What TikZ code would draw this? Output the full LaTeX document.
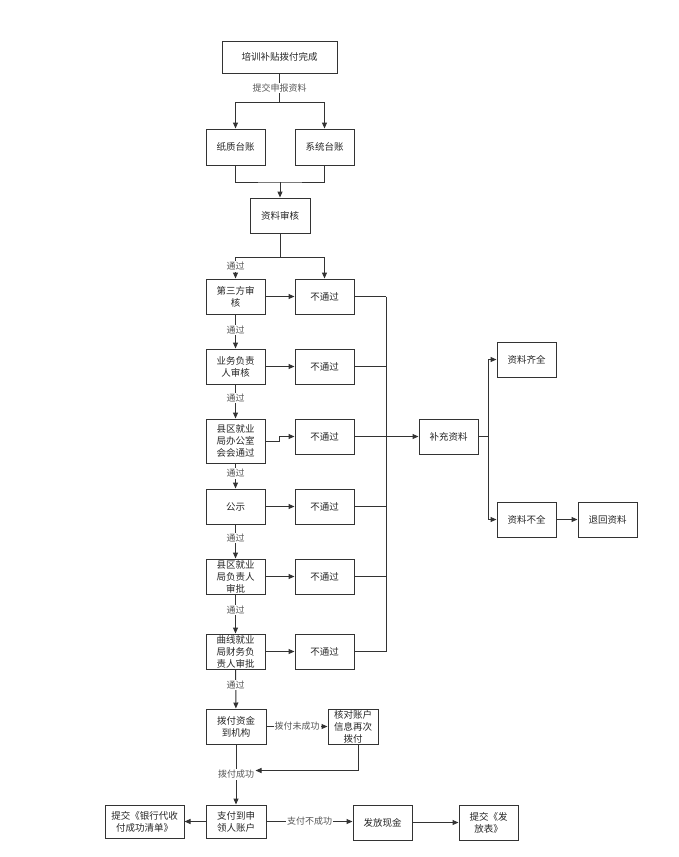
\documentclass[tikz,border=0pt]{standalone}
\usepackage{fontspec}
\newfontfamily\cjk{Noto Sans CJK SC}
\usetikzlibrary{arrows.meta}
\definecolor{ln}{HTML}{333333}
\definecolor{lt}{HTML}{555555}
\tikzset{
  bx/.style={draw=ln, line width=1pt, align=center, inner sep=1pt,
    minimum width=59pt, minimum height=35pt, font=\cjk\fontsize{9.5}{12}\selectfont, text=black!85},
  arr/.style={draw=ln, line width=1pt, -{Triangle[length=6pt,width=5pt]}},
  pl/.style={draw=ln, line width=1pt},
  lbl/.style={fill=white, inner sep=1pt, text=lt, font=\cjk\fontsize{9}{11}\selectfont}
}
\begin{document}
\begin{tikzpicture}[x=1pt,y=-1pt]
\useasboundingbox (0,0) rectangle (678,857);
% nodes
\node[bx, minimum width=115pt, minimum height=32pt] (top) at (279.5,57) {培训补贴拨付完成};
\node[bx, minimum height=36pt] (zhi) at (235.5,147) {纸质台账};
\node[bx, minimum height=36pt] (xi) at (324.5,147) {系统台账};
\node[bx, minimum width=60pt] (zl) at (280,215.5) {资料审核};
\node[bx] (A1) at (235.5,296.5) {第三方审\\核};
\node[bx] (A2) at (235.5,366.5) {业务负责\\人审核};
\node[bx, minimum height=44pt] (A3) at (235.5,441) {县区就业\\局办公室\\会会通过};
\node[bx] (A4) at (235.5,506.5) {公示};
\node[bx] (A5) at (235.5,576.5) {县区就业\\局负责人\\审批};
\node[bx] (A6) at (235.5,651.5) {曲线就业\\局财务负\\责人审批};
\node[bx] (B1) at (324.5,296.5) {不通过};
\node[bx] (B2) at (324.5,366.5) {不通过};
\node[bx] (B3) at (324.5,436.5) {不通过};
\node[bx] (B4) at (324.5,506.5) {不通过};
\node[bx] (B5) at (324.5,576.5) {不通过};
\node[bx] (B6) at (324.5,651.5) {不通过};
\node[bx, minimum width=60pt] (A7) at (236,726.5) {拨付资金\\到机构};
\node[bx, minimum width=50pt] (hd) at (353,726.5) {核对账户\\信息再次\\拨付};
\node[bx, minimum width=60pt, minimum height=33pt] (zf) at (236,821.5) {支付到申\\领人账户};
\node[bx, minimum width=79pt, minimum height=33pt] (tj1) at (144.5,821.5) {提交《银行代收\\付成功清单》};
\node[bx] (ff) at (382.5,822.5) {发放现金};
\node[bx] (tj2) at (488.5,822.5) {提交《发\\放表》};
\node[bx] (bc) at (448.5,436.5) {补充资料};
\node[bx] (qq) at (526.5,359.5) {资料齐全};
\node[bx] (bq) at (526.5,519.5) {资料不全};
\node[bx] (th) at (607.5,519.5) {退回资料};
% coordinates
\coordinate (s1) at (279.5,102);
\coordinate (m1) at (280,182);
\coordinate (m2) at (280,257);
\coordinate (vx) at (386,0);
\coordinate (c3) at (488,436.5);
% connectors
\draw[pl] (top) -- node[lbl]{提交申报资料} (s1);
\draw[arr] (s1) -| (zhi);
\draw[arr] (s1) -| (xi);
\draw[pl] (zhi.south) |- (m1) -| (xi.south);
\draw[arr] (m1) -- (zl);
\draw[pl] (zl) -- (m2);
\draw[arr] (m2) -| node[lbl, pos=0.72]{通过} (A1);
\draw[arr] (m2) -| (B1);
\draw[arr] (A1) -- node[lbl, pos=0.45]{通过} (A2);
\draw[arr] (A2) -- node[lbl, pos=0.4]{通过} (A3);
\draw[arr] (A3) -- node[lbl, pos=0.4]{通过} (A4);
\draw[arr] (A4) -- node[lbl, pos=0.4]{通过} (A5);
\draw[arr] (A5) -- node[lbl, pos=0.4]{通过} (A6);
\draw[arr] (A6) -- node[lbl, pos=0.4]{通过} (A7);
\draw[arr] (A1) -- (B1);
\draw[arr] (A2) -- (B2);
\draw[arr] (A3.east) -- ++(14,0) |- (B3.west);
\draw[arr] (A4) -- (B4);
\draw[arr] (A5) -- (B5);
\draw[arr] (A6) -- (B6);
\draw[pl] (B1.east) -- (B1.east -| vx);
\draw[pl] (B2.east) -- (B2.east -| vx);
\draw[pl] (B3.east) -- (B3.east -| vx);
\draw[pl] (B4.east) -- (B4.east -| vx);
\draw[pl] (B5.east) -- (B5.east -| vx);
\draw[pl] (B6.east) -- (B6.east -| vx);
\draw[pl] (B1.east -| vx) -- (B6.east -| vx);
\draw[arr] (B3.east -| vx) -- (bc);
\draw[pl] (bc) -- (c3);
\draw[arr] (c3) |- (qq);
\draw[arr] (c3) |- (bq);
\draw[arr] (bq) -- (th);
\draw[arr] (A7) -- node[lbl]{拨付未成功} (hd);
\draw[arr] (A7) -- node[lbl] (lbcg) {拨付成功} (zf);
\draw[arr] ([xshift=5pt]hd.south) |- ([yshift=4pt]lbcg.east);
\draw[arr] (zf) -- (tj1);
\draw[arr] (zf.east) -- node[lbl]{支付不成功} (zf.east -| ff.west);
\draw[arr] (ff) -- (tj2);
\end{tikzpicture}
\end{document}
